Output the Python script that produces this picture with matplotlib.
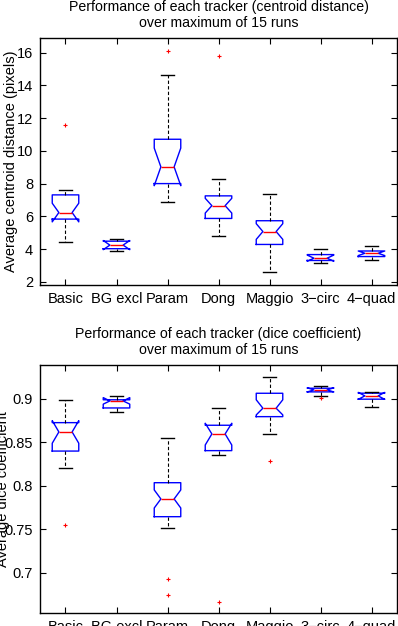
import matplotlib
matplotlib.use("Agg")
import matplotlib.pyplot as plt

plt.rcParams["font.family"] = ["Liberation Sans", "DejaVu Sans"]

trackers = ["Basic", "BG excl", "Param", "Dong", "Maggio", "3\u2212circ", "4\u2212quad"]

# centroid distance (pixels): box stats
cd_whislo = [4.40, 3.88, 6.85, 4.80, 2.60, 3.12, 3.32]
cd_q1 = [5.83, 4.02, 8.00, 5.87, 4.28, 3.30, 3.54]
cd_med = [6.23, 4.24, 9.02, 6.65, 5.07, 3.44, 3.74]
cd_q3 = [7.31, 4.48, 10.71, 7.25, 5.73, 3.66, 3.88]
cd_whishi = [7.61, 4.64, 14.64, 8.30, 7.36, 4.02, 4.18]
cd_cilo = [5.66, 3.96, 7.87, 6.20, 4.59, 3.25, 3.60]
cd_cihi = [6.80, 4.52, 10.17, 7.10, 5.55, 3.63, 3.88]
cd_fliers = [[11.6], [], [16.13], [15.83], [], [], []]

# dice coefficient
dc_whislo = [0.820, 0.8854, 0.751, 0.8355, 0.8597, 0.9035, 0.8908]
dc_q1 = [0.840, 0.8896, 0.7645, 0.8405, 0.8796, 0.9081, 0.8997]
dc_med = [0.862, 0.8977, 0.7849, 0.8597, 0.8893, 0.9104, 0.9035]
dc_q3 = [0.8727, 0.899, 0.8036, 0.8697, 0.9065, 0.9123, 0.9066]
dc_whishi = [0.899, 0.9038, 0.8555, 0.890, 0.9257, 0.9146, 0.9085]
dc_cilo = [0.849, 0.894, 0.7745, 0.847, 0.8816, 0.9080, 0.8995]
dc_cihi = [0.875, 0.9015, 0.7953, 0.872, 0.899, 0.9128, 0.9075]
dc_fliers = [[0.755], [], [0.6924, 0.6743], [0.6667], [0.8283], [0.9008], []]


def make_stats(whislo, q1, med, q3, whishi, cilo, cihi, fliers):
    return [dict(whislo=a, q1=b, med=c, q3=d, whishi=e, cilo=f, cihi=g, fliers=h)
            for a, b, c, d, e, f, g, h in zip(whislo, q1, med, q3, whishi, cilo, cihi, fliers)]


def draw(ax, stats, title, ylabel, ylim, yticks, yticklabels):
    ax.bxp(stats, positions=range(1, len(trackers) + 1), widths=0.52,
           shownotches=True, showfliers=True,
           boxprops=dict(color="#0000ff", linewidth=1.0),
           medianprops=dict(color="#ff0000", linewidth=1.0),
           whiskerprops=dict(color="black", linestyle="--", linewidth=0.8, dashes=(3, 2)),
           capprops=dict(color="black", linewidth=1.0),
           flierprops=dict(marker="+", markeredgecolor="#ff0000", markersize=3,
                           markeredgewidth=0.8, linestyle="none"))
    ax.set_xlim(0.5, 7.5)
    ax.set_ylim(*ylim)
    ax.set_xticks(range(1, len(trackers) + 1))
    ax.set_xticklabels(trackers)
    ax.set_yticks(yticks)
    ax.set_yticklabels(yticklabels)
    ax.tick_params(direction="in", top=True, right=True, length=4, width=0.8,
                   labelsize=10.5, pad=5)
    for s in ax.spines.values():
        s.set_linewidth(1.0)
    ax.set_title(title, fontsize=10.2, pad=8, linespacing=1.15)
    ax.set_ylabel(ylabel, fontsize=10.5)


fig = plt.figure(figsize=(3.98, 6.26), dpi=100)
ax1 = fig.add_axes([0.1005, 0.5447, 0.897, 0.3946])
ax2 = fig.add_axes([0.1005, 0.0212, 0.897, 0.3957])

draw(ax1, make_stats(cd_whislo, cd_q1, cd_med, cd_q3, cd_whishi, cd_cilo, cd_cihi, cd_fliers),
     "Performance of each tracker (centroid distance)\nover maximum of 15 runs",
     "Average centroid distance (pixels)", (1.8, 16.9),
     [2, 4, 6, 8, 10, 12, 14, 16], ["2", "4", "6", "8", "10", "12", "14", "16"])
draw(ax2, make_stats(dc_whislo, dc_q1, dc_med, dc_q3, dc_whishi, dc_cilo, dc_cihi, dc_fliers),
     "Performance of each tracker (dice coefficient)\nover maximum of 15 runs",
     "Average dice coefficient", (0.654, 0.939),
     [0.7, 0.75, 0.8, 0.85, 0.9], ["0.7", "0.75", "0.8", "0.85", "0.9"])

ax1.yaxis.set_label_coords(-0.062, 0.5)
ax2.yaxis.set_label_coords(-0.085, 0.5)

fig.savefig("out.png", dpi=100)
